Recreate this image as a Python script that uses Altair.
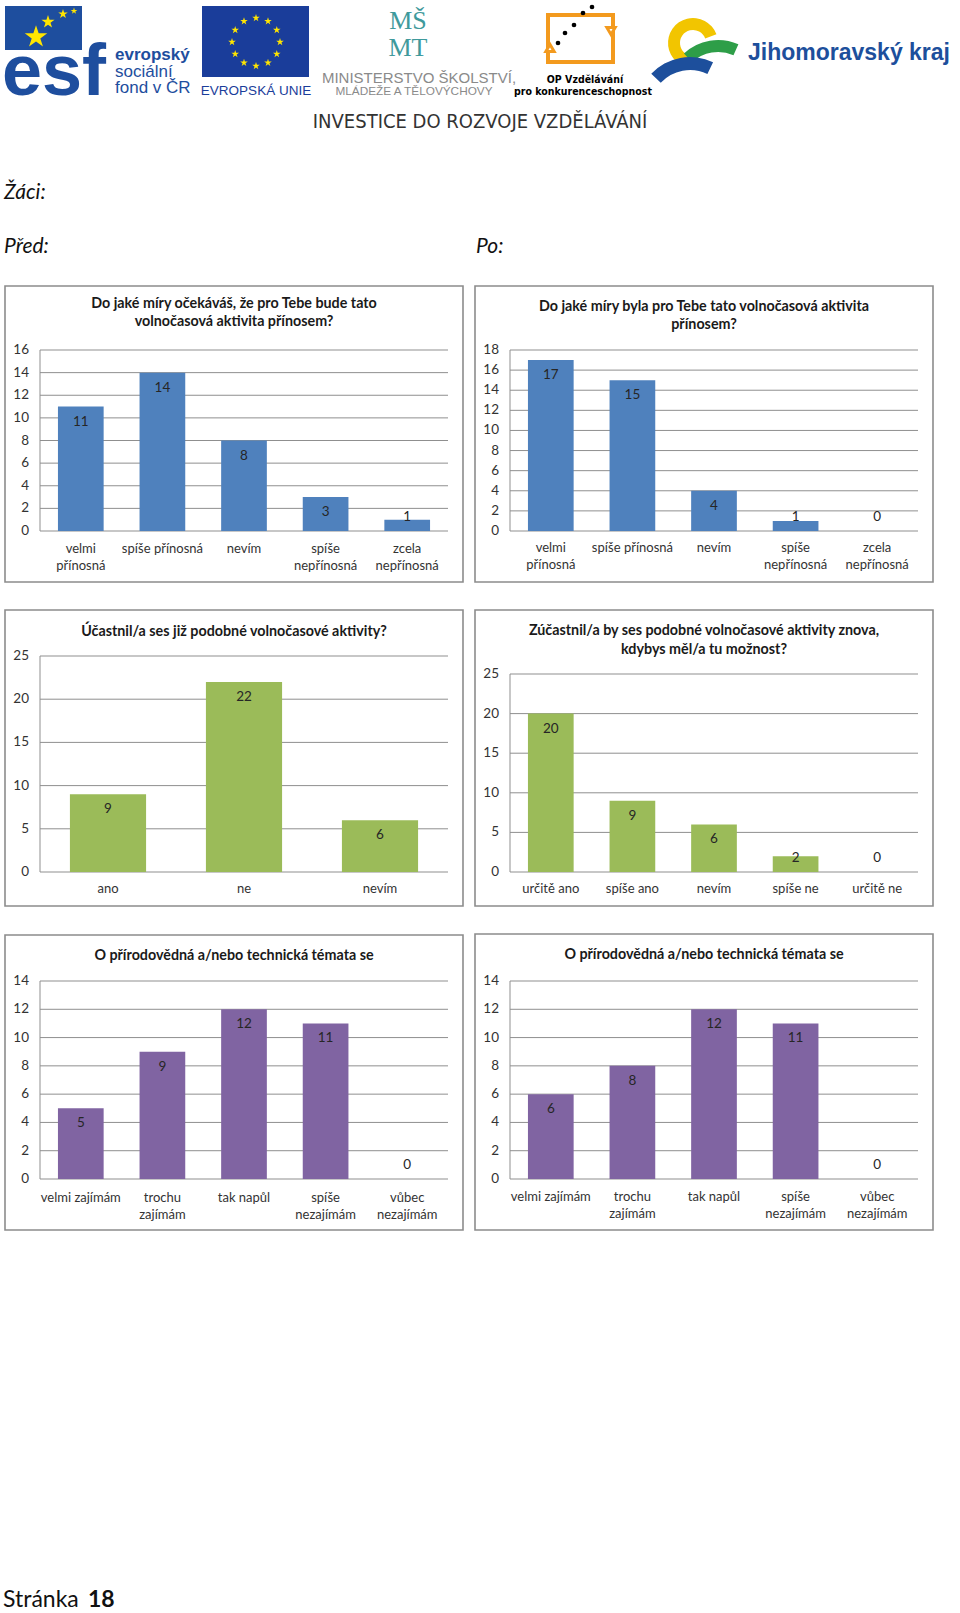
import altair as alt
import pandas as pd

# ------------------------------------------------------------------ data
benefit_cats = ["velmi\npřínosná", "spíše přínosná", "nevím", "spíše\nnepřínosná", "zcela\nnepřínosná"]
benefit_before = [11, 14, 8, 3, 1]
benefit_after = [17, 15, 4, 1, 0]

past_cats = ["ano", "ne", "nevím"]
past_counts = [9, 22, 6]

again_cats = ["určitě ano", "spíše ano", "nevím", "spíše ne", "určitě ne"]
again_counts = [20, 9, 6, 2, 0]

interest_cats = ["velmi zajímám", "trochu\nzajímám", "tak napůl", "spíše\nnezajímám", "vůbec\nnezajímám"]
interest_before = [5, 9, 12, 11, 0]
interest_after = [6, 8, 12, 11, 0]

ticks_16 = [0, 2, 4, 6, 8, 10, 12, 14, 16]
ticks_18 = [0, 2, 4, 6, 8, 10, 12, 14, 16, 18]
ticks_25 = [0, 5, 10, 15, 20, 25]
ticks_14 = [0, 2, 4, 6, 8, 10, 12, 14]

title_1 = ["Do jaké míry očekáváš, že pro Tebe bude tato", "volnočasová aktivita přínosem?"]
title_2 = ["Do jaké míry byla pro Tebe tato volnočasová aktivita", "přínosem?"]
title_3 = ["Účastnil/a ses již podobné volnočasové aktivity?"]
title_4 = ["Zúčastnil/a by ses podobné volnočasové aktivity znova,", "kdybys měl/a tu možnost?"]
title_5 = ["O přírodovědná a/nebo technická témata se"]
title_6 = ["O přírodovědná a/nebo technická témata se"]

page_heading = "Žáci:"
before_heading = "Před:"
after_heading = "Po:"
footer_word = "Stránka"
footer_number = "18"

# ------------------------------------------------------------------ style
FONT = "Lato, 'Open Sans', 'Noto Sans', sans-serif"
HFONT = "'Liberation Sans', Arial, sans-serif"
NARROW = "'Liberation Sans Narrow', 'DejaVu Sans Condensed', 'Liberation Sans', sans-serif"
SERIF = "'Liberation Serif', 'DejaVu Serif', serif"
GRID = "#8f8f8f"
BLUE = "#4F81BD"
GREEN = "#9BBB59"
PURPLE = "#8064A2"
STAR = ("M0,-1L0.2245,-0.309L0.9511,-0.309L0.3633,0.118L0.5878,0.809L0,0.382"
        "L-0.5878,0.809L-0.3633,0.118L-0.9511,-0.309L-0.2245,-0.309Z")
TAU = 6.283185


def one():
    return alt.Data(values=[{}])


def txt(s, x, y, size, color="#000000", weight="normal", style="normal",
        font=FONT, align="left", baseline="middle", line_height=None):
    kw = dict(text=s, fontSize=size, color=color, fontWeight=weight, fontStyle=style,
              font=font, align=align, baseline=baseline)
    if line_height is not None:
        kw["lineHeight"] = line_height
    return alt.Chart(one()).mark_text(**kw).encode(x=alt.value(x), y=alt.value(y))


def rect(x0, y0, x1, y1, fill="none", stroke=None, sw=1.0):
    kw = dict(fill=fill)
    if stroke is not None:
        kw.update(stroke=stroke, strokeWidth=sw)
    return alt.Chart(one()).mark_rect(**kw).encode(
        x=alt.value(x0), x2=alt.value(x1), y=alt.value(y0), y2=alt.value(y1))


def star(x, y, size, color="#FFE500"):
    return alt.Chart(one()).mark_point(shape=STAR, filled=True, color=color, size=size,
                                       opacity=1).encode(x=alt.value(x), y=alt.value(y))


def dot(x, y, size, color="#000000", shape="circle", filled=True, stroke=None):
    kw = dict(shape=shape, filled=filled, color=color, size=size, opacity=1)
    if stroke is not None:
        kw.update(stroke=stroke, strokeWidth=3, fill="white", filled=True)
    return alt.Chart(one()).mark_point(**kw).encode(x=alt.value(x), y=alt.value(y))


def arc(x, y, r_in, r_out, t0, t1, color):
    return alt.Chart(one()).mark_arc(radius=r_out, radius2=r_in, theta=t0, theta2=t1,
                                     color=color).encode(x=alt.value(x), y=alt.value(y))


def bar_panel(cats, vals, ticks, title_lines, color, frame, plot, title_y, xlab_y, title_lh=18):
    fx0, fy0, fx1, fy1 = frame
    px0, px1, base, top = plot
    ymax = ticks[-1]
    ppu = (base - top) / ymax
    df = pd.DataFrame({"cat": cats, "v": vals})
    tdf = pd.DataFrame({"t": ticks})
    xs = alt.Scale(domain=cats, range=[px0, px1], paddingInner=0.44, paddingOuter=0.22)
    ys = alt.Scale(domain=[0, ymax], range=[base, top], nice=False, zero=True)
    X = alt.X("cat:N", scale=xs, axis=None, sort=cats)

    frame_l = rect(fx0, fy0, fx1, fy1, fill="white", stroke="#8c8c8c", sw=1.6)
    grid = alt.Chart(tdf).mark_rule(color=GRID, strokeWidth=1).encode(
        x=alt.value(px0), x2=alt.value(px1), y=alt.Y("t:Q", scale=ys, axis=None))
    vaxis = alt.Chart(one()).mark_rule(color=GRID, strokeWidth=1).encode(
        x=alt.value(px0), y=alt.value(top), y2=alt.value(base))
    ylabels = alt.Chart(tdf).mark_text(align="right", baseline="middle", font=FONT,
                                       fontSize=13.5, color="#333333").encode(
        x=alt.value(px0 - 11), y=alt.Y("t:Q", scale=ys, axis=None), text="t:Q")
    bars = alt.Chart(df).mark_bar(color=color).encode(
        x=X, y=alt.Y("v:Q", scale=ys, axis=None))
    labels = alt.Chart(df).transform_calculate(
        lv=f"max(datum.v - {15 / ppu}, {14 / ppu})"
    ).mark_text(align="center", baseline="middle", font=FONT, fontSize=13.5,
                color="#262626").encode(
        x=X, y=alt.Y("lv:Q", scale=ys, axis=None), text="v:Q")
    xlabels = alt.Chart(df).mark_text(align="center", baseline="top", font=FONT, fontSize=13,
                                      lineBreak="\n", lineHeight=17, color="#333333").encode(
        x=X, y=alt.value(xlab_y), text="cat:N")
    title = txt(title_lines, (fx0 + fx1) / 2, title_y, 14.3, color="#1a1a1a", weight="bold",
                align="center", baseline="top", line_height=title_lh)
    return alt.layer(frame_l, grid, vaxis, bars, labels, ylabels, xlabels, title)


# ------------------------------------------------------------------ header (logos)
ESF_BLUE = "#1E4E9E"
EU_BLUE = "#1A3D9A"
TEAL = "#3F9A9C"
ORANGE = "#F39A1E"
JMK_BLUE = "#1D4F9C"

header = [
    # ESF
    rect(5, 6, 82, 50, fill=ESF_BLUE),
    txt("esf", 2, 95, 72, color=ESF_BLUE, weight="bold", font=HFONT, baseline="alphabetic"),
    star(36, 37, 560),
    star(48, 22, 190),
    star(63, 14, 100),
    star(74, 11, 50),
    txt("evropský", 115, 55, 17, color=ESF_BLUE, weight="bold", font=HFONT),
    txt("sociální", 115, 72, 17, color=ESF_BLUE, font=HFONT),
    txt("fond v ČR", 115, 88, 17, color=ESF_BLUE, font=HFONT),
    # EU
    rect(202, 6, 309, 77, fill=EU_BLUE),
    txt("EVROPSKÁ UNIE", 256, 91, 13.5, color=EU_BLUE, font=HFONT, align="center"),
    # MŠMT
    txt(["MŠ", "MT"], 408, 8, 26, color=TEAL, font=SERIF, align="center",
        baseline="top", line_height=27),
    txt("MINISTERSTVO ŠKOLSTVÍ,", 419, 78, 15, color="#8a8a8a", font=HFONT, align="center"),
    txt("MLÁDEŽE A TĚLOVÝCHOVY", 414, 91, 11.8, color="#8a8a8a", font=HFONT, align="center"),
    # OP VK
    rect(548, 15, 613, 62, fill="none", stroke=ORANGE, sw=4),
    dot(550, 48, 70, color=ORANGE, shape="triangle-up", stroke=ORANGE),
    dot(611, 31, 70, color=ORANGE, shape="triangle-down", stroke=ORANGE),
    dot(558, 43, 22), dot(565, 33, 22), dot(574, 25, 22), dot(583, 13, 22), dot(592, 7, 22),
    txt("OP Vzdělávání", 585, 80, 10.5, weight="bold", font=NARROW, align="center"),
    txt("pro konkurenceschopnost", 583, 92, 10.5, weight="bold", font=NARROW, align="center"),
    # Jihomoravský kraj
    arc(693, 43, 13, 25, 3.14, 7.5, "#F2C500"),
    arc(718, 90, 38, 50, TAU - 0.75, TAU + 0.42, "#2E9E48"),
    arc(690, 110, 40, 53, TAU - 0.82, TAU + 0.45, JMK_BLUE),
    txt("Jihomoravský kraj", 748, 53, 23, color=JMK_BLUE, weight="bold", font=HFONT),
    # slogan
    txt("INVESTICE DO ROZVOJE VZDĚLÁVÁNÍ", 480, 122, 20, color="#333333", font=NARROW,
        align="center"),
]

eu_stars = alt.Chart(pd.DataFrame({"k": list(range(12))})).transform_calculate(
    sx="256 + 24 * sin(datum.k * PI / 6)", sy="42 - 24 * cos(datum.k * PI / 6)"
).mark_point(shape=STAR, filled=True, color="#FFE500", size=64, opacity=1).encode(
    x=alt.X("sx:Q", scale=None), y=alt.Y("sy:Q", scale=None))
header.append(eu_stars)

headings = [
    txt(page_heading, 4, 193, 21, color="#111111", style="italic"),
    txt(before_heading, 4, 247, 21, color="#111111", style="italic"),
    txt(after_heading, 476, 247, 21, color="#111111", style="italic"),
    txt(footer_word, 3, 1600, 23, color="#111111"),
    txt(footer_number, 88, 1600, 23, color="#111111", weight="bold"),
]

# ------------------------------------------------------------------ panels
panels = [
    bar_panel(benefit_cats, benefit_before, ticks_16, title_1, BLUE,
              (5, 286, 463, 582), (40, 448, 531, 350), 297, 543),
    bar_panel(benefit_cats, benefit_after, ticks_18, title_2, BLUE,
              (475, 286, 933, 582), (510, 918, 531, 350), 300, 542),
    bar_panel(past_cats, past_counts, ticks_25, title_3, GREEN,
              (5, 610, 463, 906), (40, 448, 872, 656), 625, 883),
    bar_panel(again_cats, again_counts, ticks_25, title_4, GREEN,
              (475, 610, 933, 906), (510, 918, 872, 674), 624, 883, title_lh=19),
    bar_panel(interest_cats, interest_before, ticks_14, title_5, PURPLE,
              (5, 935, 463, 1230), (40, 448, 1179, 981), 949, 1192),
    bar_panel(interest_cats, interest_after, ticks_14, title_6, PURPLE,
              (475, 934, 933, 1230), (510, 918, 1179, 981), 948, 1191),
]

chart = alt.layer(*header, *headings, *panels).resolve_scale(
    x="independent", y="independent"
).properties(
    width=960, height=1613, padding=0, background="white",
    autosize=alt.AutoSizeParams(type="none"),
).configure_view(stroke=None)

chart.save("out.html", embed_options={"renderer": "svg", "actions": False})
